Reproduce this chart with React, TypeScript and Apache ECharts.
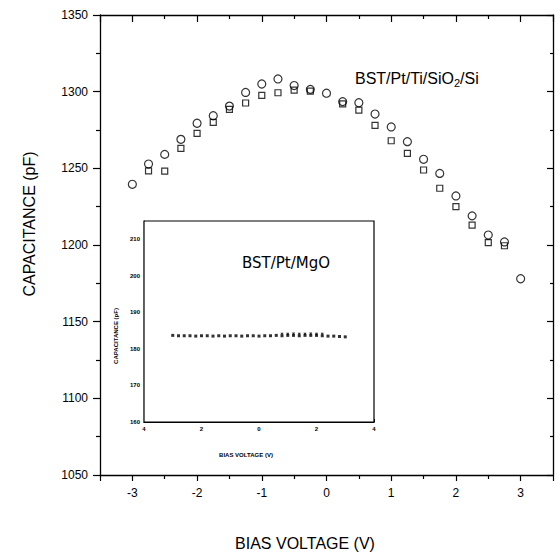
import React, { useEffect, useRef } from "react";
import * as echarts from "echarts";

// Main plot: bias voltage (V) and capacitance (pF)
const circleVoltage = [-3, -2.75, -2.5, -2.25, -2, -1.75, -1.5, -1.25, -1, -0.75, -0.5, -0.25, 0, 0.25, 0.5, 0.75, 1, 1.25, 1.5, 1.75, 2, 2.25, 2.5, 2.75, 3];
const circleCap = [1239.6, 1252.8, 1259.1, 1268.9, 1279.4, 1284.3, 1290.6, 1299.5, 1305, 1308.3, 1304, 1301.5, 1299, 1293.5, 1292.8, 1285.4, 1277, 1267.4, 1255.9, 1246.7, 1232, 1219, 1206.5, 1202, 1178];

const squareVoltage = [-2.75, -2.5, -2.25, -2, -1.75, -1.5, -1.25, -1, -0.75, -0.5, -0.25, 0.25, 0.5, 0.75, 1, 1.25, 1.5, 1.75, 2, 2.25, 2.5, 2.75];
const squareCap = [1248.4, 1248.2, 1263, 1272.8, 1280, 1288.5, 1292.6, 1297.6, 1299.3, 1301, 1300.4, 1292, 1288, 1278, 1268, 1259.8, 1248.9, 1237, 1225, 1213, 1201.5, 1199.5];

// Inset: BST/Pt/MgO
const insetVoltage = [-3, -2.8, -2.6, -2.4, -2.2, -2, -1.8, -1.6, -1.4, -1.2, -1, -0.8, -0.6, -0.4, -0.2, 0, 0.2, 0.4, 0.6, 0.8, 1, 1.2, 1.4, 1.6, 1.8, 2, 2.2, 2.4, 2.6, 2.8, 3];
const insetCap = [183.7, 183.6, 183.6, 183.6, 183.5, 183.6, 183.6, 183.5, 183.6, 183.5, 183.6, 183.6, 183.5, 183.6, 183.6, 183.5, 183.6, 183.6, 183.7, 183.6, 183.7, 183.7, 183.6, 183.7, 183.7, 183.7, 183.6, 183.5, 183.5, 183.4, 183.3];
const insetTriVoltage = [0.8, 1.0, 1.2, 1.4, 1.6, 1.8, 2.0, 2.2];
const insetTriCap = [184.0, 184.0, 184.1, 184.0, 184.0, 184.1, 184.0, 184.0];

const mainTitleX = "BIAS VOLTAGE (V)";
const mainTitleY = "CAPACITANCE (pF)";

const FONT = '"Liberation Sans", Arial, sans-serif';

function zip(xs: number[], ys: number[]) {
  return xs.map((x, i) => [x, ys[i]]);
}

export default function App() {
  const ref = useRef<HTMLDivElement>(null);
  useEffect(() => {
    const chart = echarts.init(ref.current!, null, { renderer: "svg" });
    const axisLine = { show: true, onZero: false, lineStyle: { color: "#000", width: 1.3 } };
    const insetLine = { show: true, onZero: false, lineStyle: { color: "#000", width: 1.2 } };
    const hollow = { color: "rgba(255,255,255,0)", borderColor: "#000", borderWidth: 1.2 };
    const intLabel = (v: number) => (Number.isInteger(v) ? String(v) : "");
    chart.setOption({
      animation: false,
      backgroundColor: "#fff",
      grid: [
        { left: 100, top: 15, width: 453, height: 460, show: false },
        { left: 144, top: 221, width: 230, height: 201, show: true, backgroundColor: "#fff", borderColor: "#000", borderWidth: 1.2, z: 5 },
      ],
      xAxis: [
        {
          gridIndex: 0, type: "value", position: "bottom", min: -3.5, max: 3.5, splitNumber: 7,
          axisLine, splitLine: { show: false },
          axisTick: { show: true, inside: false, length: 6, lineStyle: { color: "#000", width: 1.2 } },
          minorTick: { show: true, splitNumber: 2, length: 4, lineStyle: { color: "#000", width: 1.2 } },
          axisLabel: { formatter: intLabel, color: "#000", fontSize: 12, fontFamily: FONT, margin: 12, showMinLabel: false, showMaxLabel: false },
        },
        {
          gridIndex: 0, type: "value", position: "top", min: -3.5, max: 3.5, splitNumber: 7,
          axisLine, splitLine: { show: false },
          axisTick: { show: true, inside: true, length: 7, lineStyle: { color: "#000", width: 1.2 } },
          minorTick: { show: true, splitNumber: 2, length: 4, lineStyle: { color: "#000", width: 1.2 } },
          axisLabel: { show: false },
        },
        {
          gridIndex: 1, type: "value", min: -4, max: 4, interval: 2,
          axisLine: insetLine, splitLine: { show: false },
          axisTick: { show: true, inside: true, length: 3, lineStyle: { color: "#000" } },
          axisLabel: { formatter: (v: number) => String(Math.abs(v)), color: "#000", fontSize: 6, fontWeight: "bold", fontFamily: FONT, margin: 4 },
        },
      ],
      yAxis: [
        {
          gridIndex: 0, type: "value", position: "left", min: 1050, max: 1350, interval: 50,
          axisLine, splitLine: { show: false },
          axisTick: { show: true, inside: false, length: 7, lineStyle: { color: "#000", width: 1.2 } },
          minorTick: { show: true, splitNumber: 2, length: 4, lineStyle: { color: "#000", width: 1.2 } },
          axisLabel: { formatter: (v: number) => String(v), color: "#000", fontSize: 12, fontFamily: FONT, margin: 12 },
        },
        {
          gridIndex: 0, type: "value", position: "right", min: 1050, max: 1350, interval: 50,
          axisLine, splitLine: { show: false },
          axisTick: { show: true, inside: true, length: 6, lineStyle: { color: "#000", width: 1.2 } },
          minorTick: { show: true, splitNumber: 2, length: 3, lineStyle: { color: "#000", width: 1.2 } },
          axisLabel: { show: false },
        },
        {
          gridIndex: 1, type: "value", min: 160, max: 215, interval: 10,
          axisLine: insetLine, splitLine: { show: false },
          axisTick: { show: true, inside: true, length: 3, lineStyle: { color: "#000" } },
          axisLabel: { formatter: (v: number) => String(v), color: "#000", fontSize: 6, fontWeight: "bold", fontFamily: FONT, margin: 4, showMaxLabel: false },
        },
      ],
      series: [
        {
          type: "scatter", xAxisIndex: 0, yAxisIndex: 0, symbol: "rect", symbolSize: 6,
          itemStyle: hollow, data: zip(squareVoltage, squareCap), z: 3,
        },
        {
          type: "scatter", xAxisIndex: 0, yAxisIndex: 0, symbol: "circle", symbolSize: 8,
          itemStyle: hollow, data: zip(circleVoltage, circleCap), z: 3,
        },
        {
          type: "scatter", xAxisIndex: 2, yAxisIndex: 2, symbol: "rect", symbolSize: 3,
          itemStyle: { color: "#000" }, data: zip(insetVoltage, insetCap), z: 6,
        },
        {
          type: "scatter", xAxisIndex: 2, yAxisIndex: 2, symbol: "triangle", symbolRotate: 180, symbolSize: 3,
          itemStyle: { color: "#000" }, data: zip(insetTriVoltage, insetTriCap), z: 6,
        },
      ],
      graphic: [
        {
          type: "text", x: 29, y: 224, rotation: Math.PI / 2,
          style: { text: mainTitleY, font: `16px ${FONT}`, fill: "#000", align: "center", verticalAlign: "middle" },
        },
        {
          type: "text", x: 305, y: 543,
          style: { text: mainTitleX, font: `16px ${FONT}`, fill: "#000", align: "center", verticalAlign: "middle" },
        },
        {
          type: "text", x: 355, y: 78, z: 10,
          style: {
            text: "{n|BST/Pt/Ti/SiO}{s|2}{n|/Si}",
            fill: "#000", verticalAlign: "middle",
            rich: {
              n: { fontSize: 16, fontFamily: FONT, fill: "#000", lineHeight: 19 },
              s: { fontSize: 11, fontFamily: FONT, fill: "#000", padding: [9, 0, 0, 0], lineHeight: 19 },
            },
          },
        },
        {
          type: "text", x: 286, y: 263, z: 10,
          style: { text: "BST/Pt/MgO", font: `15px "DejaVu Sans", sans-serif`, fill: "#000", align: "center", verticalAlign: "middle" },
        },
        {
          type: "text", x: 116, y: 336, rotation: Math.PI / 2, z: 10,
          style: { text: "CAPACITANCE (pF)", font: `bold 6px ${FONT}`, fill: "#000", align: "center", verticalAlign: "middle" },
        },
        {
          type: "text", x: 246, y: 455, z: 10,
          style: { text: "BIAS VOLTAGE (V)", font: `bold 6px ${FONT}`, fill: "#000", align: "center", verticalAlign: "middle" },
        },
      ],
    });
    return () => chart.dispose();
  }, []);
  return <div ref={ref} style={{ position: "absolute", left: 0, top: 0, width: 560, height: 560 }} />;
}
